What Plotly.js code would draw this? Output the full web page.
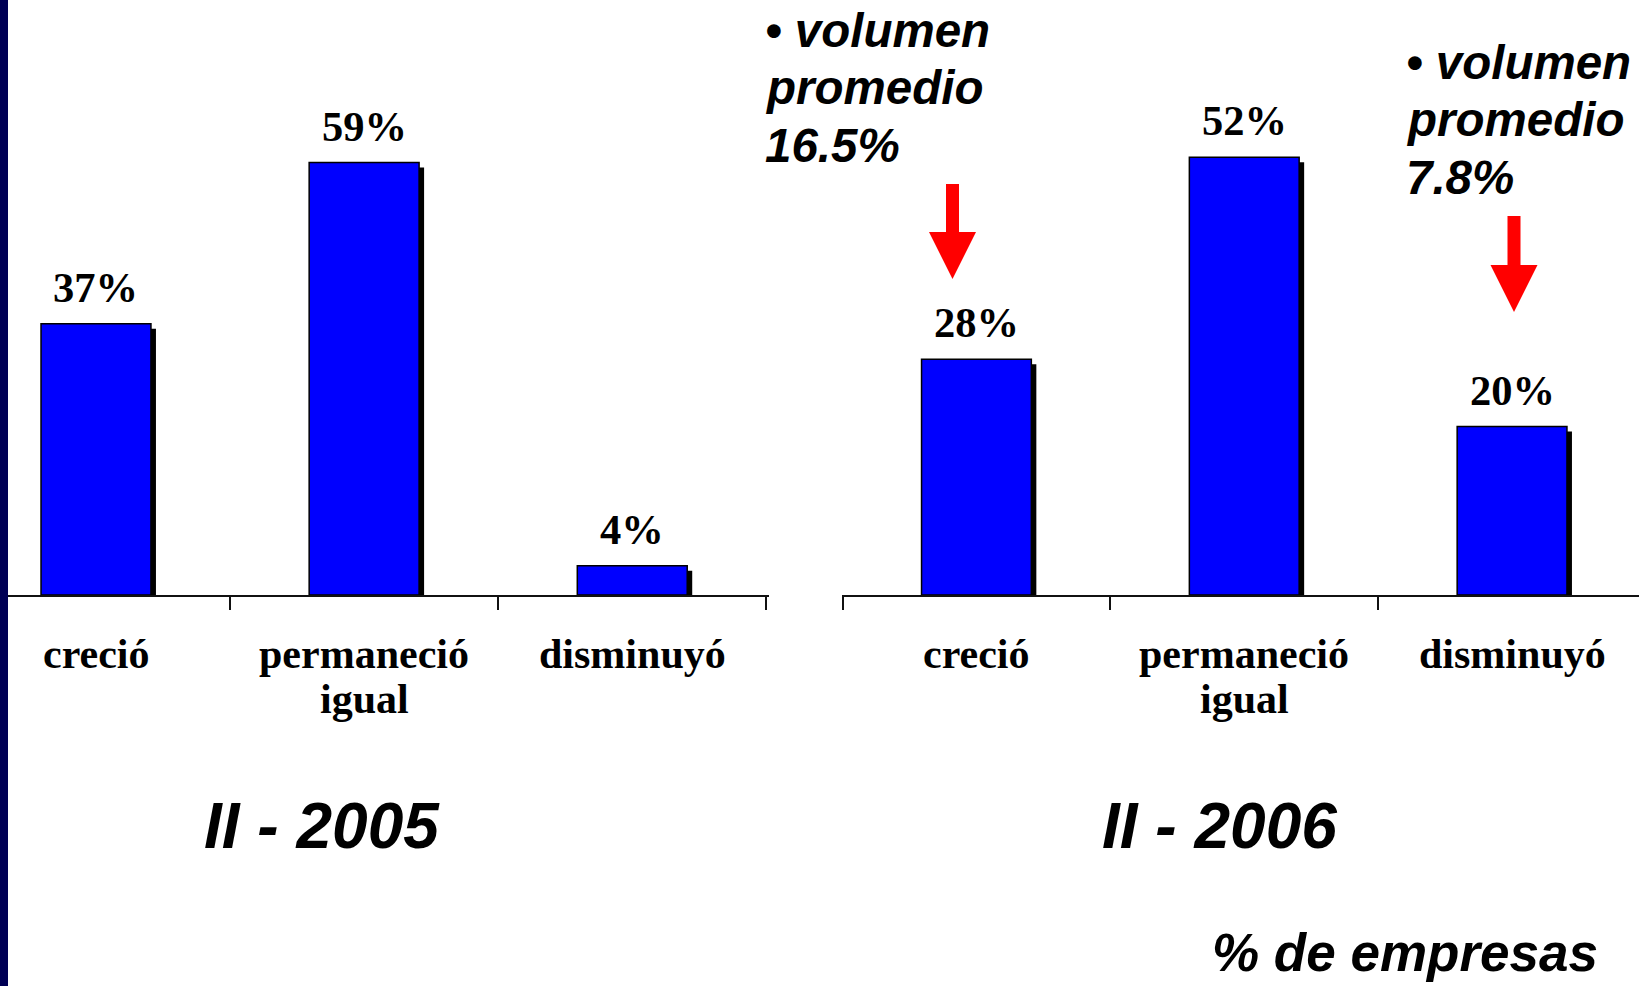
<!DOCTYPE html>
<html>
<head>
<meta charset="utf-8">
<script src="https://cdn.plot.ly/plotly-3.0.1.min.js"></script>
<style>html,body{margin:0;padding:0;background:#fff;}#chart{width:1639px;height:986px;}</style>
</head>
<body>
<div id="chart"></div>
<script>
// ---- data ----
const categories = ["creció", "permaneció igual", "disminuyó"];
const categoryLines = [["creció"], ["permaneció", "igual"], ["disminuyó"]];
const values2005 = [37, 59, 4];
const values2006 = [28, 52, 20];
const periodTitles = ["II - 2005", "II - 2006"];
const note2006Crecio = ["• volumen", "promedio", "16.5%"];
const note2006Disminuyo = ["• volumen", "promedio", "7.8%"];
const unitLabel = "% de empresas";

// ---- layout helpers ----
const W = 1639, H = 986;
const px = x => x / W;
const py = y => 1 - y / H;
const AXIS_Y = 595;
const scaleL = 7.33, scaleR = 8.42;      // px per percent
const BAND = 268;
const BAR_W = 0.41;
const SH = 5;                              // shadow offset px

const serif = {family: "Liberation Serif, Times New Roman, serif", weight: "bold", color: "#000"};
const sansBI = {family: "Liberation Sans, Arial, sans-serif", weight: "bold", style: "italic", color: "#000"};
const DESC = 0.215;
const VAL_FS = 42.5, CAT_FS = 42;

function barTraces(vals, scale, xa, ya) {
  const shadow = {
    type: "bar", x: categories, xaxis: xa, yaxis: ya,
    y: vals.map(v => v - SH / scale + 2 / scale),
    base: vals.map(() => -2 / scale),
    width: BAR_W, offset: -BAR_W / 2 + SH / BAND,
    marker: {color: "#000", line: {width: 0}},
    cliponaxis: false, hoverinfo: "skip"
  };
  const main = {
    type: "bar", x: categories, y: vals, xaxis: xa, yaxis: ya,
    width: BAR_W, offset: -BAR_W / 2,
    marker: {color: "#0000FF", line: {color: "#000", width: 1.5}},
    cliponaxis: false, hoverinfo: "skip"
  };
  return [shadow, main];
}

const data = [
  ...barTraces(values2005, scaleL, "x", "y"),
  ...barTraces(values2006, scaleR, "x2", "y2")
];

const annotations = [];
function valueLabels(vals, xa, ya) {
  vals.forEach((v, i) => annotations.push({
    x: categories[i], y: v, xref: xa, yref: ya, text: v + "%",
    showarrow: false, yanchor: "bottom", xanchor: "center", borderpad: 0,
    yshift: 21 - DESC * VAL_FS, font: {...serif, size: VAL_FS}
  }));
}
valueLabels(values2005, "x", "y");
valueLabels(values2006, "x2", "y2");

function catLabels(xa) {
  categoryLines.forEach((lines, i) => lines.forEach((t, j) => annotations.push({
    x: categories[i], xref: xa, yref: "paper",
    y: py(669 + j * 45 + DESC * CAT_FS), yanchor: "bottom", xanchor: "center", borderpad: 0,
    text: t, showarrow: false, font: {...serif, size: CAT_FS}
  })));
}
catLabels("x");
catLabels("x2");

function textAt(t, x, baseline, size, xanchor) {
  annotations.push({
    x: px(x), y: py(baseline + DESC * size), xref: "paper", yref: "paper",
    xanchor: xanchor, yanchor: "bottom", borderpad: 0,
    text: t, showarrow: false, font: {...sansBI, size: size}
  });
}
textAt(periodTitles[0], 322, 849, 64, "center");
textAt(periodTitles[1], 1219, 849, 64, "center");
note2006Crecio.forEach((t, j) => textAt(t, 764, [48, 105, 163][j], 47.5, "left"));
note2006Disminuyo.forEach((t, j) => textAt(t, 1405, [80, 137, 195][j], 47.5, "left"));
textAt(unitLabel, 1599, 972, 53, "right");

function arrowPath(cx, top, shaftBottom, tip, shaftHalf, headHalf) {
  return "M" + px(cx - shaftHalf) + "," + py(top) +
    " L" + px(cx + shaftHalf) + "," + py(top) +
    " L" + px(cx + shaftHalf) + "," + py(shaftBottom) +
    " L" + px(cx + headHalf) + "," + py(shaftBottom) +
    " L" + px(cx) + "," + py(tip) +
    " L" + px(cx - headHalf) + "," + py(shaftBottom) +
    " L" + px(cx - shaftHalf) + "," + py(shaftBottom) + " Z";
}

const shapes = [
  {type: "rect", xref: "paper", yref: "paper", x0: 0, x1: px(8), y0: 0, y1: 1,
   fillcolor: "#000055", line: {width: 0}, layer: "above"},
  {type: "path", xref: "paper", yref: "paper", path: arrowPath(952.5, 184, 232, 279, 6.5, 23.5),
   fillcolor: "#FF0000", line: {width: 0}},
  {type: "path", xref: "paper", yref: "paper", path: arrowPath(1514, 216, 265, 312, 6.5, 23.5),
   fillcolor: "#FF0000", line: {width: 0}}
];

const xCommon = {
  type: "category", categoryorder: "array", categoryarray: categories,
  showline: true, linecolor: "#111", linewidth: 2,
  ticks: "outside", tickson: "boundaries", ticklen: 13, tickwidth: 2, tickcolor: "#111",
  showticklabels: false, showgrid: false, zeroline: false, fixedrange: true
};
const yCommon = {visible: false, showgrid: false, zeroline: false, fixedrange: true};

const layout = {
  width: W, height: H, margin: {l: 0, r: 0, t: 0, b: 0},
  paper_bgcolor: "#fff", plot_bgcolor: "rgba(0,0,0,0)",
  showlegend: false, barmode: "overlay",
  xaxis: {...xCommon, domain: [0, px(769)], range: [-0.358, 2.51], anchor: "y"},
  yaxis: {...yCommon, domain: [py(AXIS_Y), 1], range: [0, AXIS_Y / scaleL], anchor: "x"},
  xaxis2: {...xCommon, domain: [px(842), 1], range: [-0.502, 2.474], anchor: "y2"},
  yaxis2: {...yCommon, domain: [py(AXIS_Y), 1], range: [0, AXIS_Y / scaleR], anchor: "x2"},
  annotations: annotations,
  shapes: shapes
};

Plotly.newPlot("chart", data, layout, {staticPlot: true, displayModeBar: false});
</script>
</body>
</html>
